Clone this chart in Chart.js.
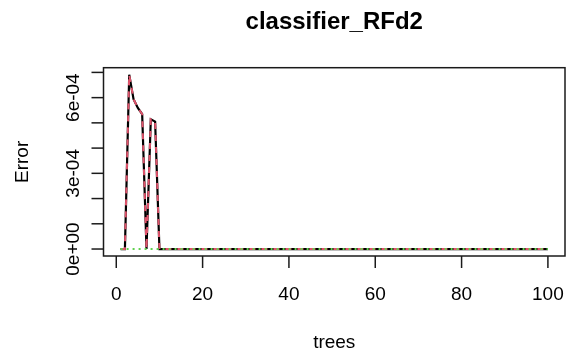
<!DOCTYPE html>
<html>
<head>
<meta charset="utf-8">
<script src="https://cdn.jsdelivr.net/npm/chart.js@4.4.1/dist/chart.umd.min.js"></script>
<style>
  html, body { margin: 0; padding: 0; background: #ffffff; }
  #wrap { width: 570px; height: 354px; }
</style>
</head>
<body>
<div id="wrap"><canvas id="err-chart" width="570" height="354"></canvas></div>
<script>
// ── Data: error rate per number of trees ─────────────────────────────────────
const trees = [
    1, 2, 3, 4, 5, 6, 7, 8, 9, 10,
    11, 12, 13, 14, 15, 16, 17, 18, 19, 20,
    21, 22, 23, 24, 25, 26, 27, 28, 29, 30,
    31, 32, 33, 34, 35, 36, 37, 38, 39, 40,
    41, 42, 43, 44, 45, 46, 47, 48, 49, 50,
    51, 52, 53, 54, 55, 56, 57, 58, 59, 60,
    61, 62, 63, 64, 65, 66, 67, 68, 69, 70,
    71, 72, 73, 74, 75, 76, 77, 78, 79, 80,
    81, 82, 83, 84, 85, 86, 87, 88, 89, 90,
    91, 92, 93, 94, 95, 96, 97, 98, 99, 100,
];

// OOB error (black, solid)
const oobErr = [
    0, 0, 6.91e-4, 5.94e-4, 5.59e-4, 5.35e-4, 0, 5.14e-4, 5.05e-4, 0,
    0, 0, 0, 0, 0, 0, 0, 0, 0, 0,
    0, 0, 0, 0, 0, 0, 0, 0, 0, 0,
    0, 0, 0, 0, 0, 0, 0, 0, 0, 0,
    0, 0, 0, 0, 0, 0, 0, 0, 0, 0,
    0, 0, 0, 0, 0, 0, 0, 0, 0, 0,
    0, 0, 0, 0, 0, 0, 0, 0, 0, 0,
    0, 0, 0, 0, 0, 0, 0, 0, 0, 0,
    0, 0, 0, 0, 0, 0, 0, 0, 0, 0,
    0, 0, 0, 0, 0, 0, 0, 0, 0, 0,
];

// class "0" error (red, dashed)
const class0Err = [
    0, 0, 6.91e-4, 5.94e-4, 5.59e-4, 5.35e-4, 0, 5.14e-4, 5.05e-4, 0,
    0, 0, 0, 0, 0, 0, 0, 0, 0, 0,
    0, 0, 0, 0, 0, 0, 0, 0, 0, 0,
    0, 0, 0, 0, 0, 0, 0, 0, 0, 0,
    0, 0, 0, 0, 0, 0, 0, 0, 0, 0,
    0, 0, 0, 0, 0, 0, 0, 0, 0, 0,
    0, 0, 0, 0, 0, 0, 0, 0, 0, 0,
    0, 0, 0, 0, 0, 0, 0, 0, 0, 0,
    0, 0, 0, 0, 0, 0, 0, 0, 0, 0,
    0, 0, 0, 0, 0, 0, 0, 0, 0, 0,
];

// class "1" error (green, dotted)
const class1Err = [
    0, 0, 0, 0, 0, 0, 0, 0, 0, 0,
    0, 0, 0, 0, 0, 0, 0, 0, 0, 0,
    0, 0, 0, 0, 0, 0, 0, 0, 0, 0,
    0, 0, 0, 0, 0, 0, 0, 0, 0, 0,
    0, 0, 0, 0, 0, 0, 0, 0, 0, 0,
    0, 0, 0, 0, 0, 0, 0, 0, 0, 0,
    0, 0, 0, 0, 0, 0, 0, 0, 0, 0,
    0, 0, 0, 0, 0, 0, 0, 0, 0, 0,
    0, 0, 0, 0, 0, 0, 0, 0, 0, 0,
    0, 0, 0, 0, 0, 0, 0, 0, 0, 0,
];

const xTicks = [0, 20, 40, 60, 80, 100];
const yTicks = [0, 1e-4, 2e-4, 3e-4, 4e-4, 5e-4, 6e-4, 7e-4];
const yTickLabels = ['0e+00', '', '', '3e-04', '', '', '6e-04', ''];

const TITLE = 'classifier_RFd2';
const X_TITLE = 'trees';
const Y_TITLE = 'Error';

// ── Helpers ──────────────────────────────────────────────────────────────────

// R-style range: data range padded by 4% on each side
const padRange = (vals) => {
    const lo = Math.min(...vals);
    const hi = Math.max(...vals);
    const d = (hi - lo) * 0.04;
    return { min: lo - d, max: hi + d };
};

const toPoints = (ys) => ys.map((y, i) => ({ x: trees[i], y }));

const FONT = '"Liberation Sans", Arial, Helvetica, sans-serif';
const AXIS_COLOR = '#1a1a1a';

const xRange = padRange(trees);
const yRange = padRange(oobErr.concat(class0Err, class1Err));

// ── Frame, axes and labels drawn R-style around the plot region ──────────────
const basePlot = {
    id: 'basePlot',
    afterDraw(chart) {
        const { ctx, chartArea: a, scales } = chart;
        const xs = scales.x;
        const ys = scales.y;
        const tick = 12;

        ctx.save();
        ctx.strokeStyle = AXIS_COLOR;
        ctx.fillStyle = '#000';
        ctx.lineWidth = 1.5;

        // box
        ctx.strokeRect(a.left, a.top, a.right - a.left, a.bottom - a.top);

        // x axis ticks + labels
        ctx.font = `19px ${FONT}`;
        ctx.textAlign = 'center';
        ctx.textBaseline = 'alphabetic';
        xTicks.forEach(v => {
            const px = xs.getPixelForValue(v);
            ctx.beginPath();
            ctx.moveTo(px, a.bottom);
            ctx.lineTo(px, a.bottom + tick);
            ctx.stroke();
            ctx.fillText(String(v), px, 300);
        });

        // y axis ticks + rotated labels
        yTicks.forEach((v, i) => {
            const py = ys.getPixelForValue(v);
            ctx.beginPath();
            ctx.moveTo(a.left, py);
            ctx.lineTo(a.left - tick, py);
            ctx.stroke();
            if (yTickLabels[i]) {
                ctx.save();
                ctx.translate(78.5, py);
                ctx.rotate(-Math.PI / 2);
                ctx.fillText(yTickLabels[i], 0, 0);
                ctx.restore();
            }
        });

        // axis titles
        const cx = (a.left + a.right) / 2;
        const cy = (a.top + a.bottom) / 2;
        ctx.fillText(X_TITLE, cx, 348);
        ctx.save();
        ctx.translate(27.5, cy);
        ctx.rotate(-Math.PI / 2);
        ctx.fillText(Y_TITLE, 0, 0);
        ctx.restore();

        // main title
        ctx.font = `bold 24px ${FONT}`;
        ctx.fillText(TITLE, cx, 29);
        ctx.restore();
    },
};

// ── Chart ────────────────────────────────────────────────────────────────────
// Datasets are painted last-to-first, so the dotted line ends up on top.
new Chart(document.getElementById('err-chart').getContext('2d'), {
    type: 'line',
    data: {
        datasets: [
            {
                label: '1',
                data: toPoints(class1Err),
                borderColor: '#61D04F',
                borderWidth: 2,
                borderDash: [2, 4],
            },
            {
                label: '0',
                data: toPoints(class0Err),
                borderColor: '#DF536B',
                borderWidth: 2,
                borderDash: [6, 6],
            },
            {
                label: 'OOB',
                data: toPoints(oobErr),
                borderColor: '#000000',
                borderWidth: 2.2,
            },
        ],
    },
    options: {
        responsive: false,
        animation: false,
        elements: { point: { radius: 0 }, line: { tension: 0 } },
        layout: { padding: { left: 103.5, right: 5, top: 67.7, bottom: 98 } },
        plugins: {
            legend: { display: false },
            tooltip: { enabled: false },
            title: { display: false },
        },
        scales: {
            x: { type: 'linear', display: false, min: xRange.min, max: xRange.max },
            y: { type: 'linear', display: false, min: yRange.min, max: yRange.max },
        },
    },
    plugins: [basePlot],
});
</script>
</body>
</html>
